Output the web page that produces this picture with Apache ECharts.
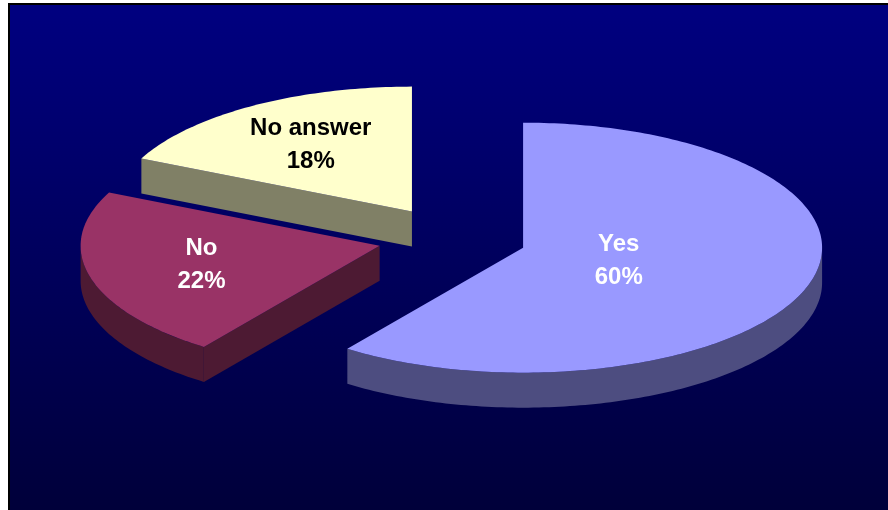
<!DOCTYPE html>
<html>
<head>
<meta charset="utf-8">
<script src="https://cdn.jsdelivr.net/npm/echarts@6/dist/echarts.min.js"></script>
<style>
  html, body { margin: 0; padding: 0; background: #ffffff; }
  #frame {
    position: absolute; left: 8px; top: 3px;
    width: 880px; height: 507px;
    border-top: 2px solid #000; border-left: 2px solid #000;
    box-sizing: border-box;
  }
  #chart { width: 878px; height: 505px; }
</style>
</head>
<body>
<div id="frame"><div id="chart"></div></div>
<script>
// Survey answers, in clockwise order from twelve o'clock
const categories = ['Yes', 'No', 'No answer'];
const shares = [60, 22, 18];
const sliceColors = ['#9999FF', '#993366', '#FFFFCC'];
const labelColors = ['#FFFFFF', '#FFFFFF', '#000000'];

const total = shares.reduce((a, b) => a + b, 0);
const starts = [];
shares.reduce((acc, v) => { starts.push(acc); return acc + v; }, 0);

// Tilted-pie geometry
const PIE = { cx: 442, cy: 233, rx: 299, ry: 125, depth: 35, explode: 0.25 };

function shade(hex, f) {
  const n = parseInt(hex.slice(1), 16);
  const r = Math.round(((n >> 16) & 255) * f);
  const g = Math.round(((n >> 8) & 255) * f);
  const b = Math.round((n & 255) * f);
  return 'rgb(' + r + ',' + g + ',' + b + ')';
}

function renderSlice(params, api) {
  const i = params.dataIndex;
  const v = api.value(0);
  const s = 2 * Math.PI * starts[i] / total;
  const e = s + 2 * Math.PI * v / total;
  const mid = (s + e) / 2;
  const ox = PIE.cx + PIE.explode * PIE.rx * Math.sin(mid);
  const oy = PIE.cy - PIE.explode * PIE.ry * Math.cos(mid);
  const pt = (t, r, dz) => [ox + PIE.rx * r * Math.sin(t), oy - PIE.ry * r * Math.cos(t) + (dz || 0)];
  const arc = (a, b, dz) => {
    const n = Math.max(2, Math.ceil(Math.abs(b - a) / (Math.PI / 180)));
    const pts = [];
    for (let k = 0; k <= n; k++) pts.push(pt(a + (b - a) * k / n, 1, dz));
    return pts;
  };
  const top = sliceColors[i];
  const side = shade(top, 0.5);
  const zBase = Math.round(oy) * 10;
  const children = [];

  // outer rim, front half only
  const lo = Math.max(s, Math.PI / 2), hi = Math.min(e, 3 * Math.PI / 2);
  if (lo < hi) {
    const rim = arc(lo, hi, 0).concat(arc(hi, lo, PIE.depth));
    children.push({ type: 'polygon', z2: zBase + 1, shape: { points: rim }, style: { fill: side } });
  }
  // cut faces that point towards the viewer
  const radialFace = t => [[ox, oy], pt(t, 1), pt(t, 1, PIE.depth), [ox, oy + PIE.depth]];
  if (Math.sin(s) < -1e-6) {
    children.push({ type: 'polygon', z2: zBase + 1, shape: { points: radialFace(s) }, style: { fill: side } });
  }
  if (Math.sin(e) > 1e-6) {
    children.push({ type: 'polygon', z2: zBase + 1, shape: { points: radialFace(e) }, style: { fill: side } });
  }
  // top face
  children.push({ type: 'polygon', z2: zBase + 2, shape: { points: [[ox, oy]].concat(arc(s, e, 0)) }, style: { fill: top } });

  // label at the sector centroid
  const alpha = e - s;
  const rc = 4 * Math.sin(alpha / 2) / (3 * alpha);
  const lp = pt(mid, rc);
  children.push({
    type: 'text', z2: 100000,
    style: {
      text: categories[i] + '\n' + v + '%',
      x: lp[0], y: lp[1],
      align: 'center', verticalAlign: 'middle',
      fill: labelColors[i],
      font: 'bold 24px "Liberation Sans", Arial, sans-serif',
      lineHeight: 33
    }
  });
  return { type: 'group', children: children };
}

const chart = echarts.init(document.getElementById('chart'), null, { renderer: 'canvas' });
chart.setOption({
  animation: false,
  backgroundColor: {
    type: 'linear', x: 0, y: 0, x2: 0, y2: 1,
    colorStops: [{ offset: 0, color: '#000080' }, { offset: 1, color: '#00003A' }]
  },
  series: [{
    type: 'custom',
    coordinateSystem: 'none',
    renderItem: renderSlice,
    data: shares.map((v, i) => ({ name: categories[i], value: [v] }))
  }]
});
</script>
</body>
</html>
